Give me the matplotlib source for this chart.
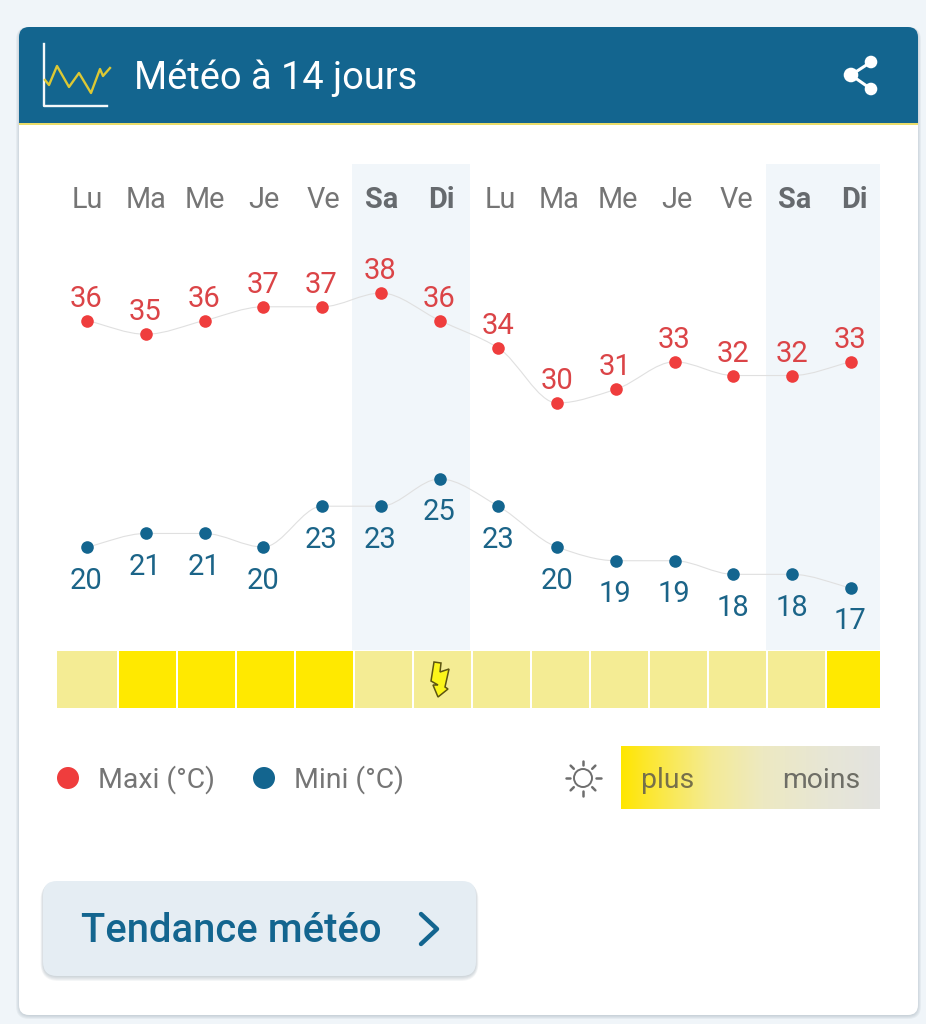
import numpy as np
import matplotlib
matplotlib.use('Agg')
import matplotlib.pyplot as plt
from matplotlib.patches import FancyBboxPatch, Circle, Polygon, Rectangle, PathPatch
from matplotlib.path import Path
from matplotlib.colors import LinearSegmentedColormap

plt.rcParams['font.family'] = ['Roboto', 'DejaVu Sans']

days = ['Lu', 'Ma', 'Me', 'Je', 'Ve', 'Sa', 'Di', 'Lu', 'Ma', 'Me', 'Je', 'Ve', 'Sa', 'Di']
maxi = [36, 35, 36, 37, 37, 38, 36, 34, 30, 31, 33, 32, 32, 33]
mini = [20, 21, 21, 20, 23, 23, 25, 23, 20, 19, 19, 18, 18, 17]
# 1 = plein soleil, 0 = moins
sun = [0, 1, 1, 1, 1, 0, 0, 0, 0, 0, 0, 0, 0, 1]
weekend = [5, 6, 12, 13]

BLUE = '#13658F'
RED = '#EF3D3D'
GREY = '#757575'
x = np.arange(len(days))
xlim = (-1.48, 14.276)

fig = plt.figure(figsize=(9.26, 10.24), dpi=100, facecolor='#F0F5F9')

# fond en coordonnees pixels
px = fig.add_axes([0, 0, 1, 1], zorder=0)
px.set_xlim(0, 926)
px.set_ylim(1024, 0)
px.axis('off')


def round_box(x0, y0, x1, y1, r, **kw):
    b = FancyBboxPatch((x0 + r, y0 + r), x1 - x0 - 2 * r, y1 - y0 - 2 * r,
                       boxstyle='round,pad=%f,rounding_size=%f' % (r, r), linewidth=0, **kw)
    px.add_patch(b)
    return b


def smooth_line(ax, xs, ys):
    # courbe monotone entre les points, trait fin gris
    xs = np.asarray(xs, float)
    ys = np.asarray(ys, float)
    d = np.diff(ys)
    m = np.zeros(len(ys))
    for i in range(1, len(ys) - 1):
        if d[i - 1] * d[i] > 0:
            m[i] = 2 * d[i - 1] * d[i] / (d[i - 1] + d[i])
    m[0], m[-1] = d[0], d[-1]
    verts = [(xs[0], ys[0])]
    codes = [Path.MOVETO]
    for i in range(len(xs) - 1):
        verts += [(xs[i] + 1 / 3, ys[i] + m[i] / 3), (xs[i + 1] - 1 / 3, ys[i + 1] - m[i + 1] / 3), (xs[i + 1], ys[i + 1])]
        codes += [Path.CURVE4] * 3
    ax.add_patch(PathPatch(Path(verts, codes), facecolor='none', edgecolor='#E0E0E0', lw=0.8, zorder=1))


# carte + ombre
for i in range(4):
    round_box(19 - i, 27, 918 + i, 1016 + i, 10 + i, facecolor='#8A9AA5', alpha=0.10)
round_box(19, 27, 918, 1015, 10, facecolor='white')

# bandeau titre
clip = Rectangle((0, 0), 926, 123, transform=px.transData)
hdr = round_box(19, 27, 918, 160, 10, facecolor=BLUE)
hdr.set_clip_path(clip)
px.add_patch(Rectangle((19, 123), 899, 2.2, facecolor='#EBDD6A', linewidth=0))
px.text(134, 78, 'Météo à 14 jours', color='white', fontsize=27.4, va='center', ha='left')

# icone courbe
px.plot([44, 44, 107], [44, 106, 106], color='#F4F8FA', lw=1.7)
px.plot([45, 49, 57, 69, 79, 91, 100, 103, 110], [80, 85, 66, 87, 73, 93, 69, 76, 68],
        color='#DCC834', lw=1.7)

# icone partage
share = [(871, 62), (851, 75), (871, 89)]
px.plot(*zip(*share), color='white', lw=2.2)
for (cx, cy), r in zip(share, [6.3, 7.3, 6.3]):
    px.add_patch(Circle((cx, cy), r, facecolor='white', linewidth=0))

# colonnes week-end, en-tetes de jours (pas de 59 px, comme les cases)
bands = fig.add_axes([0, (1024 - 650) / 1024, 1, (650 - 164) / 1024], zorder=1)
bands.set_xlim(-87 / 59, 839 / 59)
bands.set_ylim(0, 1)
bands.axis('off')
bands.axvspan(4.49, 6.49, color='#F1F6FA', linewidth=0)
bands.axvspan(11.51, 13.44, color='#F1F6FA', linewidth=0)
for i, d in zip(x, days):
    we = i in weekend
    bands.annotate(d, (i, 1), xytext=(0, -36 * 0.72), textcoords='offset points', ha='center', va='center',
                   fontsize=20.8, color='#666A6E' if we else GREY, fontweight='bold' if we else 'normal')

# courbes : chaque serie a sa propre echelle verticale
ax_max = fig.add_axes([0, 0, 1, 1], zorder=2)
ax_max.set_xlim(xlim)
ax_max.set_ylim(-15.16, 59.31)
ax_max.axis('off')
smooth_line(ax_max, x, maxi)
ax_max.scatter(x, maxi, s=82, color=RED, linewidth=0, zorder=2)
for i, v in zip(x, maxi):
    ax_max.annotate(str(v), (i - 0.01, v), xytext=(0, 22 * 0.72), textcoords='offset points', ha='center', va='center',
                    fontsize=21, color='#DB4447')

ax_min = fig.add_axes([0, 0, 1, 1], zorder=3)
ax_min.set_xlim(xlim)
ax_min.set_ylim(-14.99, 60.14)
ax_min.axis('off')
smooth_line(ax_min, x, mini)
ax_min.scatter(x, mini, s=82, color=BLUE, linewidth=0, zorder=2)
for i, v in zip(x, mini):
    ax_min.annotate(str(v), (i - 0.01, v), xytext=(0, -33.5 * 0.72), textcoords='offset points', ha='center', va='center',
                    fontsize=21, color='#1B6488')

# ensoleillement : pas de 59 px, axe coupe a droite a 880 px
cells = fig.add_axes([0, (1024 - 708) / 1024, 880 / 926, 57 / 1024], zorder=4)
cells.set_xlim(-1.5, 13.415)
cells.set_ylim(0, 1)
cells.axis('off')
cell_left = x - 0.483
cell_width = np.full(len(x), 0.966)
cell_left[0] -= 3 / 59
cell_width[0] += 3 / 59
cells.bar(cell_left, 1, width=cell_width, align='edge', color=['#FFE900' if s else '#F4EC94' for s in sun], linewidth=0)
bolt = [(434, 662), (441, 663), (440, 672), (449, 669), (445, 687), (448, 689), (438, 697),
        (433, 685), (438, 685), (431, 681)]
cells.add_patch(Polygon(bolt, closed=True, transform=px.transData, facecolor='#FBF51A',
                        edgecolor='#5C5412', linewidth=1.1, clip_on=False))

# legende
px.add_patch(Circle((68, 778), 11, facecolor=RED, linewidth=0))
px.text(98, 780, 'Maxi (°C)', color=GREY, fontsize=20.4, va='center', ha='left')
px.add_patch(Circle((264, 778), 11, facecolor=BLUE, linewidth=0))
px.text(294, 780, 'Mini (°C)', color=GREY, fontsize=20.4, va='center', ha='left')

# soleil
sx, sy = 583, 778
px.add_patch(Circle((sx, sy), 9, facecolor='none', edgecolor='#6E6E6E', linewidth=1.4))
for a in np.radians(np.arange(0, 360, 45)):
    px.plot([sx + 13 * np.cos(a), sx + 17.5 * np.cos(a)],
            [sy + 13 * np.sin(a), sy + 17.5 * np.sin(a)], color='#6E6E6E', lw=1.8, solid_capstyle='round')

# degrade plus / moins
cmap = LinearSegmentedColormap.from_list('sun', [(0, '#FFE600'), (0.08, '#FDE726'), (0.2, '#F9E95A'), (0.35, '#F4EB96'),
                                                 (0.55, '#EDE9C2'), (0.8, '#E7E6D6'), (1, '#E3E3E0')])
px.imshow(np.linspace(0, 1, 256)[None, :], extent=(621, 880, 809, 746), cmap=cmap, aspect='auto', zorder=2,
          interpolation='bilinear')
px.set_xlim(0, 926)
px.set_ylim(1024, 0)
px.text(641, 780, 'plus', color='#76704A', fontsize=20.4, va='center', ha='left', zorder=3)
px.text(860, 780, 'moins', color='#6E6E66', fontsize=20.4, va='center', ha='right', zorder=3)

# bouton
for i in range(5):
    round_box(43 - i * 0.6, 882, 476 + i * 0.6, 977 + i, 14 + i, facecolor='#6F8290', alpha=0.07)
round_box(43, 881, 476, 976, 14, facecolor='#E5EDF3')
px.text(81, 931, 'Tendance météo', color=BLUE, fontsize=28.8, fontweight='medium', va='center', ha='left')
px.plot([421, 437, 421], [914, 929, 944], color=BLUE, lw=3.2, solid_capstyle='round', solid_joinstyle='round')

fig.savefig('out.png', dpi=100, facecolor=fig.get_facecolor())
